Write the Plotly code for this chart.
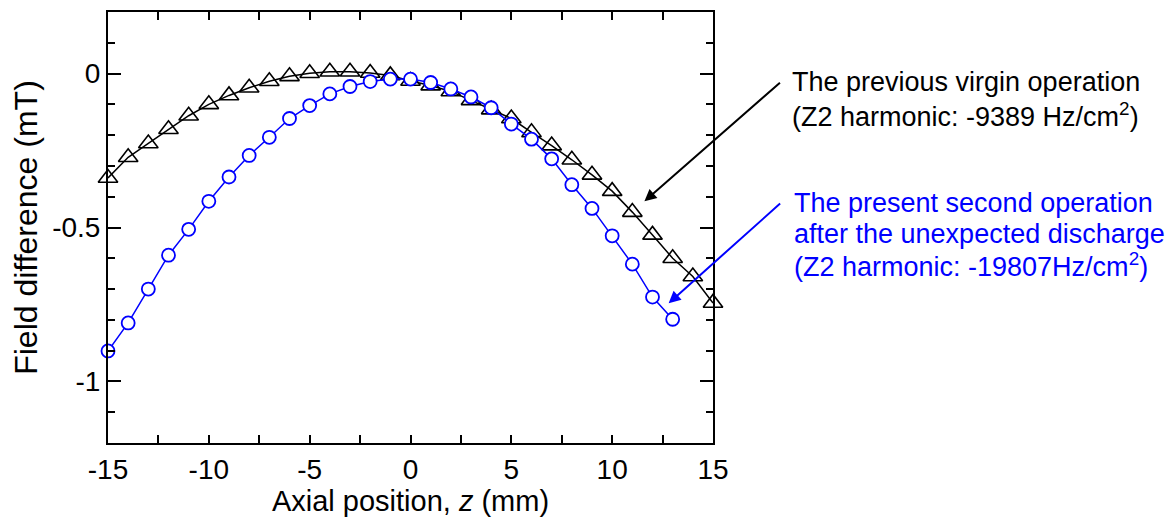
import plotly.graph_objects as go

z = list(range(-15, 16))
prev_virgin = [-0.339, -0.272, -0.227, -0.181, -0.137, -0.100, -0.071, -0.046, -0.025, -0.009,
               0.001, 0.006, 0.006, 0.002, -0.006, -0.024, -0.039, -0.058, -0.087, -0.117,
               -0.146, -0.191, -0.234, -0.280, -0.329, -0.382, -0.450, -0.524, -0.600, -0.659, -0.745]
z2 = list(range(-15, 14))
second_op = [-0.901, -0.810, -0.700, -0.590, -0.506, -0.415, -0.336, -0.266, -0.207, -0.146,
             -0.104, -0.066, -0.042, -0.026, -0.018, -0.018, -0.029, -0.050, -0.076, -0.111,
             -0.164, -0.213, -0.277, -0.361, -0.438, -0.527, -0.619, -0.726, -0.798]

x_tickvals = [-15, -10, -5, 0, 5, 10, 15]
x_ticktext = ["-15", "-10", "-5", "0", "5", "10", "15"]
y_tickvals = [0, -0.5, -1]
y_ticktext = ["0", "-0.5", "-1"]

FONT = "Liberation Sans, Arial, sans-serif"

fig = go.Figure()
fig.add_trace(go.Scatter(
    x=z, y=prev_virgin, mode="lines+markers",
    line=dict(color="black", width=1.5),
    marker=dict(symbol="triangle-up-open", size=17, color="black", line=dict(width=1.6)),
    showlegend=False, cliponaxis=False))
fig.add_trace(go.Scatter(
    x=z2, y=second_op, mode="lines+markers",
    line=dict(color="#0000ff", width=1.5),
    marker=dict(symbol="circle", size=13, color="white", line=dict(color="#0000ff", width=1.8)),
    showlegend=False, cliponaxis=False))

fig.update_xaxes(
    range=[-15, 15], tickvals=x_tickvals, ticktext=x_ticktext,
    ticks="inside", ticklen=8, tickwidth=1.5, tickcolor="black",
    minor=dict(dtick=2.5, tick0=0, ticks="inside", ticklen=8, tickwidth=1.5, tickcolor="black"),
    showline=True, linecolor="black", linewidth=2, mirror="ticks",
    showgrid=False, zeroline=False,
    tickfont=dict(size=28, color="black", family=FONT),
    title=dict(text="Axial position, <i>z</i> (mm)", font=dict(size=29, color="black", family=FONT), standoff=2))
fig.update_yaxes(
    range=[-1.2, 0.2], tickvals=y_tickvals, ticktext=y_ticktext,
    ticks="inside", ticklen=13, tickwidth=1.5, tickcolor="black",
    minor=dict(dtick=0.1, tick0=0, ticks="inside", ticklen=7, tickwidth=1.5, tickcolor="black"),
    showline=True, linecolor="black", linewidth=2, mirror="ticks",
    showgrid=False, zeroline=False,
    tickfont=dict(size=28, color="black", family=FONT),
    title=dict(text="Field difference (mT)", font=dict(size=32, color="black", family=FONT), standoff=10))

# screen geometry of the plot area (page has an 8px body margin)
X0, X1, Y0, Y1 = 108, 713, 10, 443
def px(xp):
    return (xp - X0) / (X1 - X0)
def py(yp):
    return (Y1 - yp) / (Y1 - Y0)

annotations = []
black_lines = ["The previous virgin operation", "(Z2 harmonic: -9389 Hz/cm<sup>2</sup>)"]
black_y = [80, 113]
for t, yy in zip(black_lines, black_y):
    annotations.append(dict(xref="paper", yref="paper", x=px(790), y=py(yy), text=t,
                            showarrow=False, xanchor="left", yanchor="middle",
                            font=dict(size=27, color="black", family=FONT)))
blue_lines = ["The present second operation", "after the unexpected discharge",
              "(Z2 harmonic: -19807Hz/cm<sup>2</sup>)"]
blue_y = [202, 233, 264]
for t, yy in zip(blue_lines, blue_y):
    annotations.append(dict(xref="paper", yref="paper", x=px(792), y=py(yy), text=t,
                            showarrow=False, xanchor="left", yanchor="middle",
                            font=dict(size=27, color="#0000ff", family=FONT)))
# arrows
annotations.append(dict(xref="x", yref="y", x=11.6, y=-0.415, ax=137, ay=-120, text="",
                        showarrow=True, arrowhead=2, arrowsize=1.2, arrowwidth=2, arrowcolor="black",
                        axref="pixel", ayref="pixel"))
annotations.append(dict(xref="x", yref="y", x=12.8, y=-0.746, ax=113, ay=-101, text="",
                        showarrow=True, arrowhead=2, arrowsize=1.2, arrowwidth=2, arrowcolor="#0000ff",
                        axref="pixel", ayref="pixel"))

fig.update_layout(
    width=1166, height=512,
    margin=dict(l=X0 - 8, r=1166 + 8 - X1, t=Y0 - 8, b=512 + 8 - Y1),
    plot_bgcolor="white", paper_bgcolor="white",
    font=dict(family=FONT, color="black"),
    annotations=annotations)

fig.write_html("out.html")
